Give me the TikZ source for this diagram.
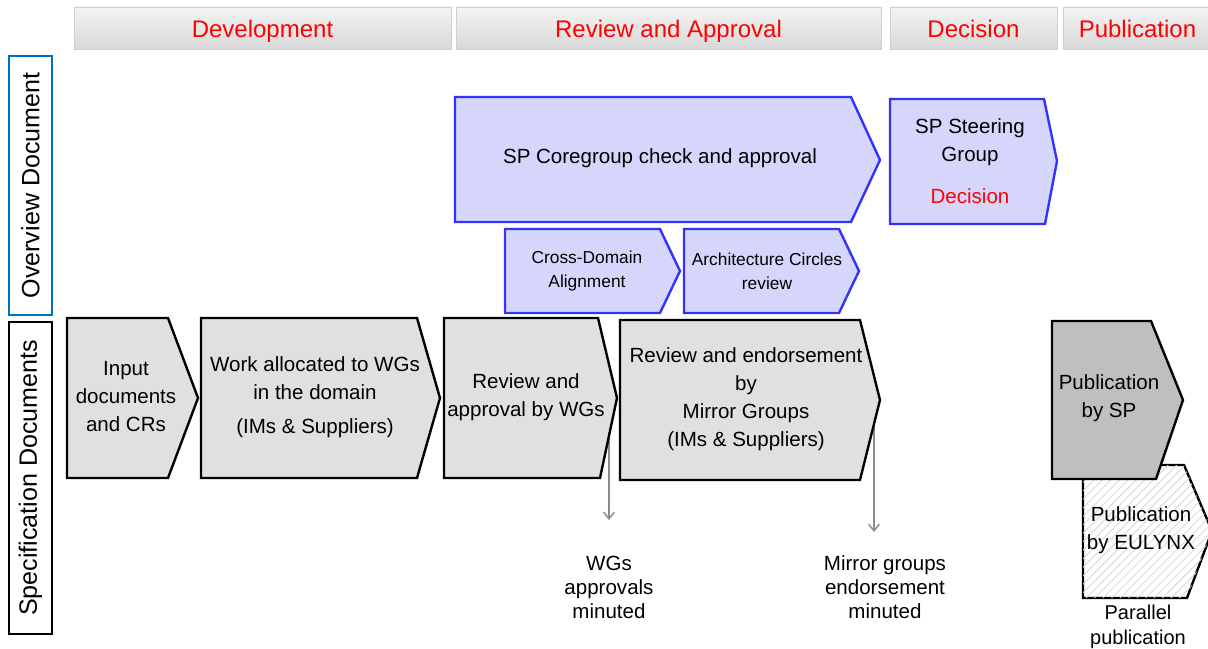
\documentclass[tikz,border=0pt]{standalone}
\usepackage{fontspec}
\setmainfont{Liberation Sans}
\usetikzlibrary{arrows.meta,patterns.meta}

\definecolor{phasetop}{RGB}{244,244,244}
\definecolor{phasebot}{RGB}{216,216,216}
\definecolor{phaseline}{RGB}{208,208,208}
\definecolor{phasered}{RGB}{255,0,0}
\definecolor{corefill}{RGB}{214,214,252}
\definecolor{coreline}{RGB}{51,51,250}
\definecolor{specfill}{RGB}{224,224,224}
\definecolor{pubfill}{RGB}{191,191,191}
\definecolor{ovblue}{RGB}{0,112,192}
\definecolor{minutegray}{RGB}{140,140,140}

\tikzset{
  phase/.style={draw=phaseline, line width=0.7pt, top color=phasetop, bottom color=phasebot},
  phasetext/.style={text=phasered, text height=13pt, text depth=0pt, yshift=-0.6pt, font=\fontsize{18}{22}\selectfont},
  sidetext/.style={font=\fontsize{18.8}{22}\selectfont},
  corebox/.style={draw=coreline, fill=corefill, line width=1.8pt},
  specbox/.style={draw=black, fill=specfill, line width=1.8pt},
  pubbox/.style={draw=black, fill=pubfill, line width=1.8pt},
  eulybox/.style={draw=black, line width=1.8pt, fill=white,
    postaction={pattern={Lines[angle=45,distance=4.5pt,line width=0.6pt]}, pattern color=black!16}},
  boxtext/.style={align=center, font=\fontsize{15.4}{21}\selectfont},
  smalltext/.style={align=center, font=\fontsize{13}{18}\selectfont},
  notetext/.style={align=center, font=\fontsize{15.4}{18}\selectfont},
  partext/.style={align=center, font=\fontsize{15}{18.75}\selectfont},
  minute/.style={draw=minutegray, line width=1.1pt, -{Straight Barb[length=5pt,width=8pt]}}
}

\begin{document}
\begin{tikzpicture}[x=0.75pt, y=-0.75pt]
        \useasboundingbox (0,0) rectangle (1208,649);

        % phases
        \draw [phase] (74,7) rectangle node [phasetext] (hdev) {Development} (451,49);
        \draw [phase] (456,7) rectangle node [phasetext] (hrev) {Review and Approval} (881,49);
        \draw [phase] (890,7) rectangle node [phasetext] (hdec) {Decision} (1057,49);
        \draw [phase] (1063,7) rectangle node [phasetext] (hpub) {Publication} (1212,49);

        % document levels
        \draw [draw=ovblue, line width=2pt] (9,56) rectangle node [sidetext, rotate=90] (ovdoc) {Overview Document} (52,315);
        \draw [draw=black, line width=2pt] (9,322) rectangle node [sidetext, rotate=90] (specdoc) {Specification Documents} (52,634);

        % overview document
        \draw [corebox] (455,97) -- (851,97) -- (880,160) -- (851,222) -- (455,222) -- cycle;
        \node (core) [boxtext] at (660,158) {SP Coregroup check and approval};
        \draw [corebox] (890,99) -- (1044,99) -- (1057,161) -- (1045,224) -- (890,224) -- cycle;
        \node (steer) [boxtext] at (970,161) {SP Steering\\Group\\[10pt]\textcolor{phasered}{Decision}};
        \draw [corebox] (505,229) -- (660,229) -- (680,271) -- (660,313) -- (505,313) -- cycle;
        \node (cross) [smalltext] at (587,271) {Cross-Domain\\Alignment};
        \draw [corebox] (684,229) -- (839,229) -- (859,271) -- (839,313) -- (684,313) -- cycle;
        \node (arch) [smalltext] at (767,271) {Architecture Circles\\review};

        % minutes
        \coordinate (wgfoot) at (609,430);
        \coordinate (wgtip) at (609,520);
        \coordinate (mgfoot) at (874,420);
        \coordinate (mgtip) at (874,532);
        \draw [minute] (wgfoot) -- (wgtip);
        \draw [minute] (mgfoot) -- (mgtip);

        % specification documents
        \draw [specbox] (67,318) -- (168,318) -- (198,398) -- (168,478) -- (67,478) -- cycle;
        \node (input) [boxtext] at (126,397) {Input\\documents\\and CRs};
        \draw [specbox] (201,318) -- (417,318) -- (440,398) -- (417,478) -- (201,478) -- cycle;
        \node (work) [boxtext] at (315,397) {Work allocated to WGs\\in the domain\\[4.5pt](IMs \& Suppliers)};
        \draw [specbox] (444,318) -- (598,318) -- (617,398) -- (600,478) -- (444,478) -- cycle;
        \node (revwg) [boxtext] at (526,397) {Review and\\approval by WGs};
        \draw [specbox] (620,320) -- (860,320) -- (880,400) -- (860,480) -- (620,480) -- cycle;
        \node (revmg) [boxtext] at (746,399) {Review and endorsement\\by\\Mirror Groups\\(IMs \& Suppliers)};

        % publication
        \draw [eulybox] (1083,465) -- (1184,465) -- (1212,531) -- (1187,598) -- (1083,598) -- cycle;
        \node (pubeu) [boxtext] at (1141,530) {Publication\\by EULYNX};
        \draw [pubbox] (1052,321) -- (1151,321) -- (1183,400) -- (1156,479) -- (1052,479) -- cycle;
        \node (pubsp) [boxtext] at (1109,398) {Publication\\by SP};

        \node (wgnote) [notetext] at (609,587) {WGs\\approvals\\minuted};
        \node (mgnote) [notetext] at (885,587) {Mirror groups\\endorsement\\minuted};
        \node (parnote) [partext] at (1138,627) {Parallel\\publication};
\end{tikzpicture}
\end{document}
